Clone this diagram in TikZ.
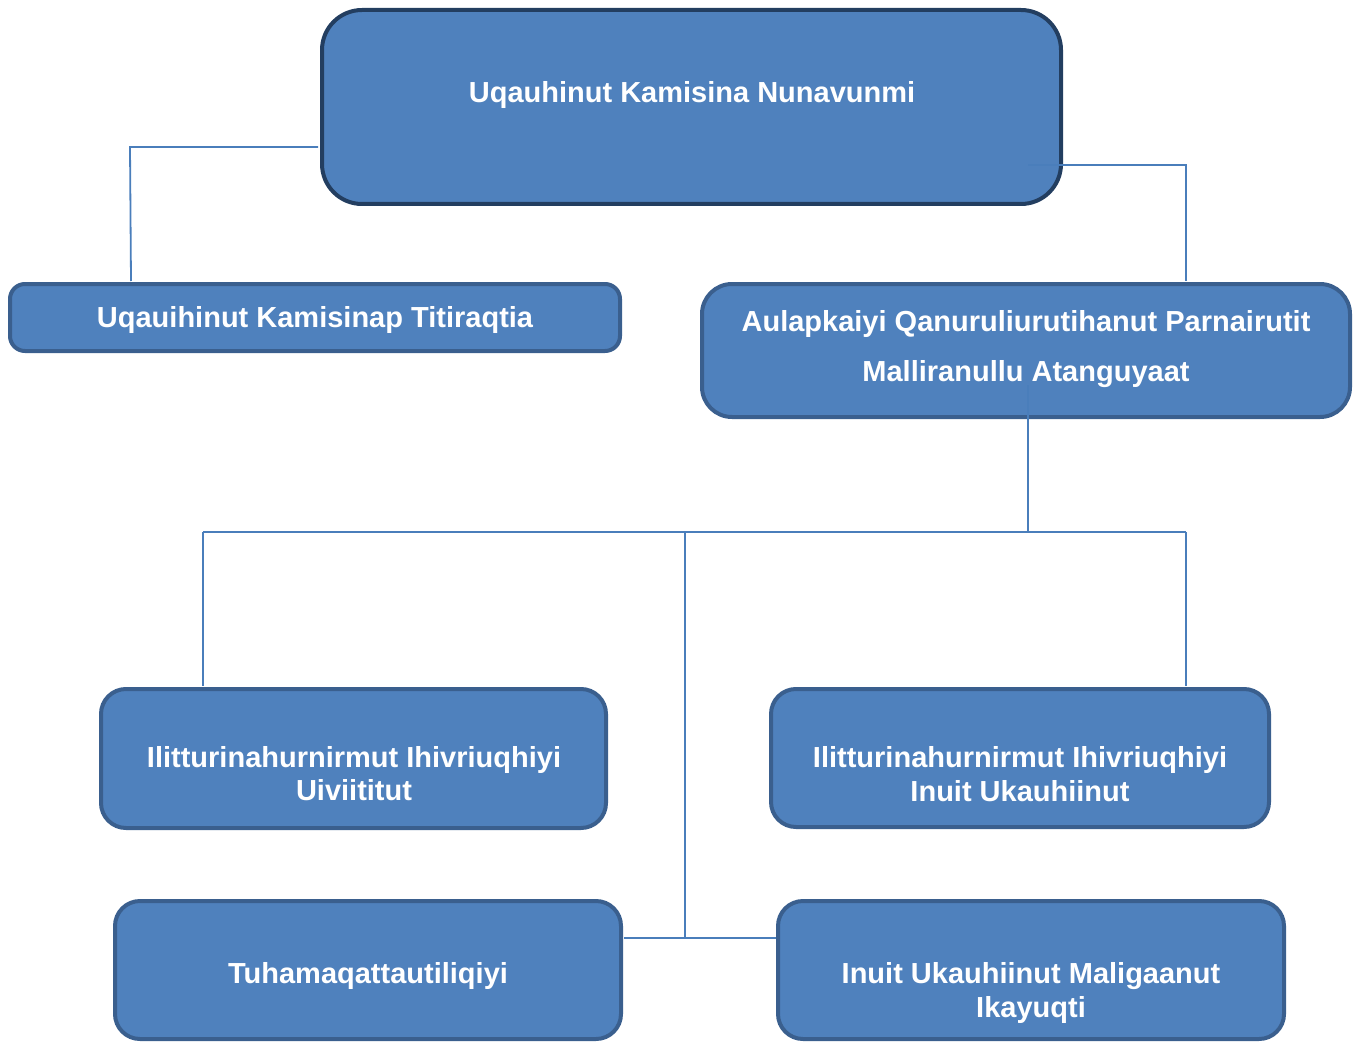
\documentclass[tikz,border=0pt]{standalone}
\usepackage{fontspec}
\setmainfont{Liberation Sans}
\definecolor{boxfill}{HTML}{4F81BD}
\definecolor{topborder}{HTML}{233E60}
\definecolor{boxborder}{HTML}{3A5F8E}
\definecolor{linecol}{HTML}{4A7EBB}
\begin{document}
\begin{tikzpicture}[x=1pt,y=-1pt,
  boxshape/.style={draw=boxborder, line width=4pt, fill=boxfill, inner sep=0pt, rectangle},
  lbl/.style={anchor=base, inner sep=0pt, text=white, font=\fontsize{29}{34}\selectfont\bfseries},
  conn/.style={draw=linecol, line width=1.8pt}]
\useasboundingbox (0,0) rectangle (1354,1043);
% boxes
\node[boxshape, draw=topborder, rounded corners=40pt, minimum width=739pt, minimum height=194pt] (top) at (691.5,107) {};
\node[boxshape, rounded corners=15pt, minimum width=610pt, minimum height=67pt] (b2) at (315,317.5) {};
\node[boxshape, rounded corners=30pt, minimum width=648pt, minimum height=133pt] (b3) at (1026,350.5) {};
\node[boxshape, rounded corners=25pt, minimum width=505pt, minimum height=139pt] (b4) at (353.5,758.5) {};
\node[boxshape, rounded corners=25pt, minimum width=498pt, minimum height=138pt] (b5) at (1020,758) {};
\node[boxshape, rounded corners=25pt, minimum width=506pt, minimum height=138pt] (b6) at (368,970) {};
\node[boxshape, rounded corners=25pt, minimum width=506pt, minimum height=138pt] (b7) at (1031,970) {};
% labels
\node[lbl] (t1) at (692,103) {Uqauhinut Kamisina Nunavunmi};
\node[lbl] (t2) at (315,327) {Uqauihinut Kamisinap Titiraqtia};
\node[lbl] (t3a) at (1026,331) {Aulapkaiyi Qanuruliurutihanut Parnairutit};
\node[lbl] (t3b) at (1026,381) {Malliranullu Atanguyaat};
\node[lbl] (t4a) at (354,767) {Ilitturinahurnirmut Ihivriuqhiyi};
\node[lbl] (t4b) at (354,800) {Uiviititut};
\node[lbl] (t5a) at (1020,767) {Ilitturinahurnirmut Ihivriuqhiyi};
\node[lbl] (t5b) at (1020,801) {Inuit Ukauhiinut};
\node[lbl] (t6) at (368,983) {Tuhamaqattautiliqiyi};
\node[lbl] (t7a) at (1031,983) {Inuit Ukauhiinut Maligaanut};
\node[lbl] (t7b) at (1031,1017) {Ikayuqti};
% connector points
\coordinate (c1a) at (318,147);
\coordinate (c1b) at (130,147);
\coordinate (c1c) at (131,281);
\coordinate (c2a) at (1028,165);
\coordinate (c2b) at (1186,165);
\coordinate (c2c) at (1186,281);
\coordinate (c3a) at (1028,385);
\coordinate (c3b) at (1028,532);
\coordinate (hl) at (203,532);
\coordinate (hr) at (1186,532);
\coordinate (hm) at (685,532);
\coordinate (b4top) at (203,686);
\coordinate (b5top) at (1186,686);
\coordinate (vm) at (685,938);
\coordinate (b6r) at (624,938);
\coordinate (b7l) at (776,938);
% connectors
\draw[conn] (c1a) -- (c1b) -- (c1c);
\draw[conn] (c2a) -- (c2b) -- (c2c);
\draw[conn] (c3a) -- (c3b);
\draw[conn] (hl) -- (hr);
\draw[conn] (hl) -- (b4top);
\draw[conn] (hr) -- (b5top);
\draw[conn] (hm) -- (vm);
\draw[conn] (b6r) -- (b7l);
\end{tikzpicture}
\end{document}
